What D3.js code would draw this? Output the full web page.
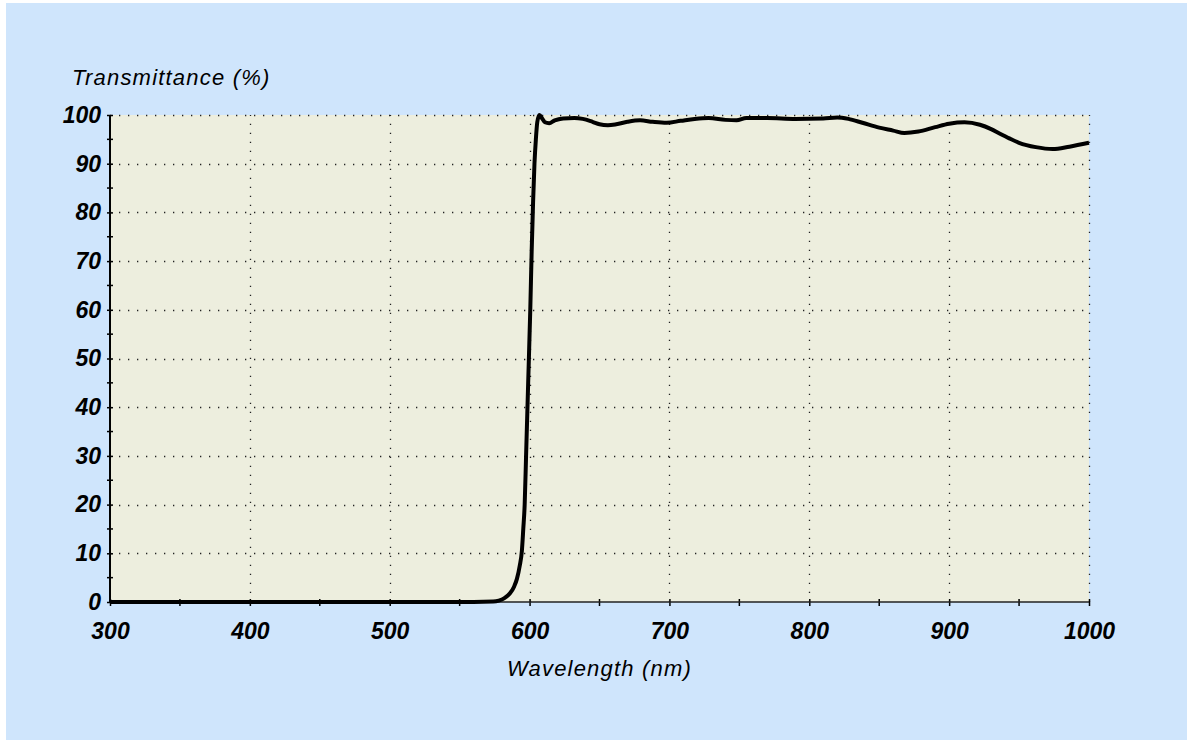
<!DOCTYPE html>
<html>
<head>
<meta charset="utf-8">
<script src="https://cdn.jsdelivr.net/npm/d3@7"></script>
<style>
  body { margin: 0; background: #fff; }
  svg { display: block; }
  .tick-label { font-family: "Liberation Sans", Arial, sans-serif; font-size: 23px; font-weight: bold; font-style: italic; fill: #000; }
  .axis-title { font-family: "Liberation Sans", Arial, sans-serif; font-size: 22px; font-style: italic; letter-spacing: 1.2px; fill: #000; }
</style>
</head>
<body>
<svg id="chart" width="1187" height="740"></svg>
<script>
// Transmittance spectrum
const wavelengths = [300, 400, 500, 560, 574, 578, 582, 586, 589, 591, 593, 594.5, 595.5, 596.5, 597.5, 599, 600.5,
  601.5, 602.5, 603.5, 604.5, 605.5, 607, 609, 611, 614, 618, 624, 632, 638, 645, 650, 656, 662, 670,
  679, 688, 698, 708, 718, 728, 740, 748, 755, 770, 790, 810, 820, 828, 838, 850, 860, 868, 878, 890,
  900, 911, 922, 930, 936, 943, 950, 962, 974, 986, 1000];
const transmittance = [0, 0, 0, 0, 0.1, 0.3, 0.8, 1.8, 3.2, 4.8, 7.5, 10.5, 15, 20, 30, 45, 60,
  72, 82, 90, 95, 98.5, 100, 99.3, 98.5, 98.3, 98.9, 99.3, 99.4, 99.2, 98.6, 98.1, 97.9, 98.1, 98.6,
  98.9, 98.6, 98.4, 98.8, 99.2, 99.4, 99.0, 98.9, 99.4, 99.4, 99.2, 99.3, 99.5, 99.2, 98.4, 97.4, 96.8, 96.3, 96.6, 97.5,
  98.2, 98.5, 98.0, 97.1, 96.2, 95.2, 94.3, 93.4, 93.0, 93.5, 94.3];

const xMajorTicks = [300, 400, 500, 600, 700, 800, 900, 1000];
const xMinorTicks = [350, 450, 550, 650, 750, 850, 950];
const yMajorTicks = [0, 10, 20, 30, 40, 50, 60, 70, 80, 90, 100];
const yMinorTicks = [5, 15, 25, 35, 45, 55, 65, 75, 85, 95];

const xTitle = "Wavelength (nm)";
const yTitle = "Transmittance (%)";

const svg = d3.select("#chart");
const W = 1187, H = 740;
const plot = { left: 110, right: 1089, top: 115, bottom: 602 };

// panel background
svg.append("rect").attr("x", 6).attr("y", 3).attr("width", W - 6).attr("height", H - 3).attr("fill", "#cfe5fc");
svg.append("rect")
  .attr("x", plot.left).attr("y", plot.top)
  .attr("width", plot.right - plot.left).attr("height", plot.bottom - plot.top)
  .attr("fill", "#edeede");

const x = d3.scaleLinear().domain([300, 1000]).range([plot.left, plot.right]);
const y = d3.scaleLinear().domain([0, 100]).range([plot.bottom, plot.top]);

// dotted grid
const grid = svg.append("g").attr("stroke", "#222").attr("stroke-width", 1.3)
  .attr("stroke-dasharray", "1.3,7.7").attr("fill", "none");
grid.selectAll(".gx").data(xMajorTicks.slice(1)).enter().append("line")
  .attr("x1", d => Math.round(x(d)) + 0.5).attr("x2", d => Math.round(x(d)) + 0.5)
  .attr("y1", plot.bottom).attr("y2", plot.top);
grid.selectAll(".gy").data(yMajorTicks.slice(1)).enter().append("line")
  .attr("y1", d => Math.round(y(d)) + 0.5).attr("y2", d => Math.round(y(d)) + 0.5)
  .attr("x1", plot.left).attr("x2", plot.right);

// y axis
const yAxis = svg.append("g").attr("transform", `translate(${plot.left},0)`)
  .call(d3.axisLeft(y).tickValues(yMajorTicks).tickSize(3).tickPadding(7).tickFormat(d3.format("d")));
yAxis.select(".domain").remove();
yAxis.selectAll(".tick line").attr("x1", -3).attr("x2", 3).attr("stroke", "#000").attr("stroke-width", 1.5);
yAxis.selectAll(".tick text").attr("class", "tick-label").attr("x", -9);
svg.append("g").selectAll("line").data(yMinorTicks).enter().append("line")
  .attr("x1", plot.left - 3).attr("x2", plot.left + 3)
  .attr("y1", d => y(d)).attr("y2", d => y(d))
  .attr("stroke", "#000").attr("stroke-width", 1.5);
svg.append("line").attr("x1", plot.left).attr("x2", plot.left)
  .attr("y1", plot.top).attr("y2", plot.bottom).attr("stroke", "#000").attr("stroke-width", 2);

// x axis
const xAxis = svg.append("g").attr("transform", `translate(0,${plot.bottom})`)
  .call(d3.axisBottom(x).tickValues(xMajorTicks).tickSize(3).tickPadding(17.5).tickFormat(d3.format("d")));
xAxis.select(".domain").remove();
xAxis.selectAll(".tick line").attr("y1", -3).attr("y2", 4).attr("stroke", "#000").attr("stroke-width", 1.5);
xAxis.selectAll(".tick text").attr("class", "tick-label");
svg.append("g").selectAll("line").data(xMinorTicks).enter().append("line")
  .attr("x1", d => x(d)).attr("x2", d => x(d))
  .attr("y1", plot.bottom - 3).attr("y2", plot.bottom + 4)
  .attr("stroke", "#000").attr("stroke-width", 1.5);
svg.append("line").attr("x1", plot.left).attr("x2", plot.right)
  .attr("y1", plot.bottom).attr("y2", plot.bottom).attr("stroke", "#222").attr("stroke-width", 1.5);

// spectrum curve
const points = wavelengths.map((w, i) => [w, transmittance[i]]);
const line = d3.line().x(d => x(d[0])).y(d => y(d[1])).curve(d3.curveMonotoneX);
svg.append("path").datum(points)
  .attr("d", line)
  .attr("fill", "none").attr("stroke", "#000").attr("stroke-width", 4)
  .attr("stroke-linejoin", "round");

// titles
svg.append("text").attr("class", "axis-title").attr("x", 72).attr("y", 85).text(yTitle);
svg.append("text").attr("class", "axis-title").attr("text-anchor", "middle")
  .attr("x", (plot.left + plot.right) / 2).attr("y", 676).text(xTitle);
</script>
</body>
</html>
